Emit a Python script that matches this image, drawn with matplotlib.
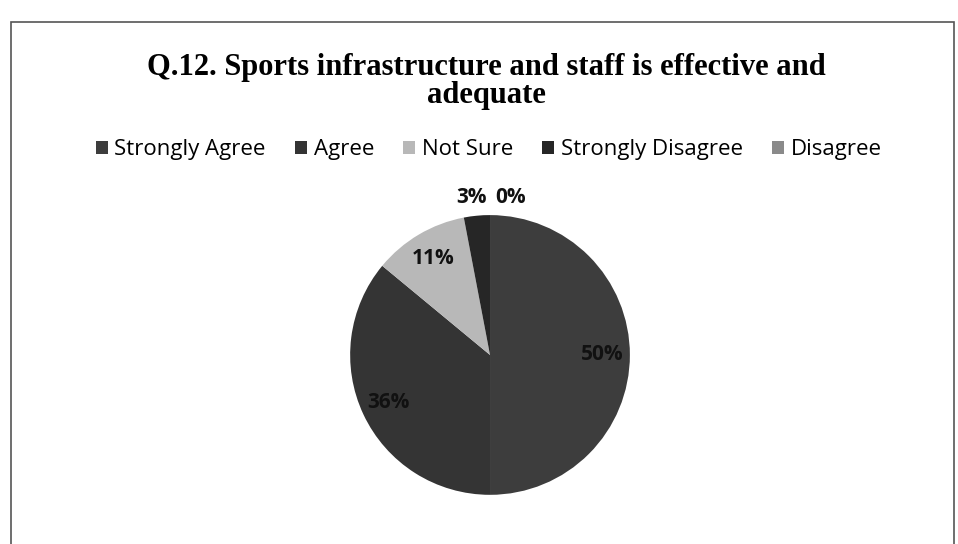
import matplotlib.pyplot as plt
from matplotlib.patches import Rectangle

# datos del gráfico
categorias = ["Strongly Agree", "Agree", "Not Sure", "Strongly Disagree", "Disagree"]
porcentajes = [50, 36, 11, 3, 0]
colores = ["#3d3d3d", "#343434", "#b8b8b8", "#262626", "#8a8a8a"]
titulo = "Q.12. Sports infrastructure and staff is effective and\nadequate"

fig = plt.figure(figsize=(9.58, 5.44), dpi=100)
fig.patch.set_facecolor("white")

# marco del gráfico
fig.patches.append(Rectangle((0.011, -0.02), 0.985, 0.98, transform=fig.transFigure,
                             fill=False, edgecolor="#555555", linewidth=1.2))

fig.text(0.508, 0.85, titulo, ha="center", va="center", fontsize=22,
         fontweight="bold", family="Liberation Serif", linespacing=0.98)

ax = fig.add_axes([0.329, 0.026, 0.365, 0.643])
wedges, textos, pcts = ax.pie(
    porcentajes, colors=colores, startangle=90, counterclock=False,
    autopct="%d%%", pctdistance=0.8,
    wedgeprops=dict(edgecolor="none"),
    textprops=dict(fontsize=15, fontweight="bold", family="Open Sans", color="#111111"),
)
ax.set_aspect("equal")

# las etiquetas pequeñas van fuera, arriba
pcts[3].set_position((-0.02, 1.05))
pcts[3].set_ha("right")
pcts[4].set_position((0.04, 1.05))
pcts[4].set_ha("left")
for t in pcts[3:]:
    t.set_va("bottom")

fig.legend(wedges, categorias, loc="center", bbox_to_anchor=(0.51, 0.725), ncol=5,
           frameon=False, handlelength=0.55, handleheight=0.55, handletextpad=0.3,
           columnspacing=1.3, prop=dict(family="Open Sans", size=16))

plt.savefig("out.png", dpi=100)
